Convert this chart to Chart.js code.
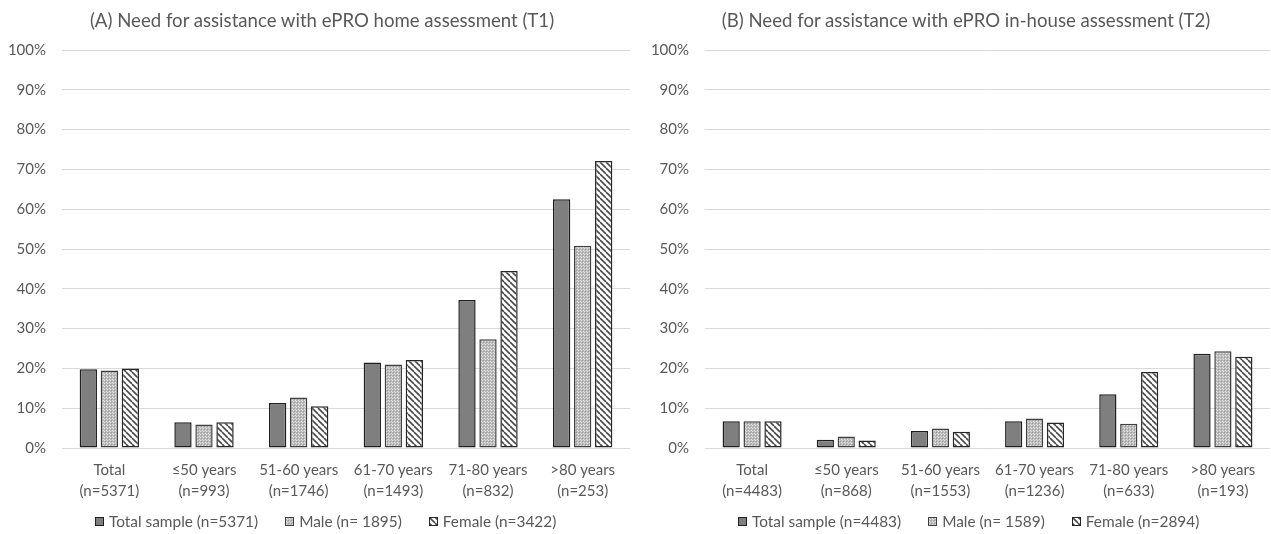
<!DOCTYPE html>
<html>
<head>
<meta charset="utf-8">
<script src="https://cdn.jsdelivr.net/npm/chart.js@4"></script>
<style>
  html, body { margin: 0; padding: 0; background: #fff; }
  #wrap { position: relative; width: 1271px; height: 534px; overflow: hidden; }
  canvas.chart { position: absolute; top: 0; }
  .title { position: absolute; top: 9px; height: 22px; line-height: 22px; transform: translateX(-50%);
           font-family: Lato, "Liberation Sans", sans-serif; font-size: 18.6px; color: #595959; white-space: nowrap; }
  .legend { position: absolute; top: 512px; height: 18px; display: flex; align-items: center;
            font-family: Lato, "Liberation Sans", sans-serif; font-size: 15.4px; color: #595959; white-space: nowrap; }
  .legend .item { display: flex; align-items: center; margin-right: 27px; line-height: 18px; }
  .legend canvas { width: 9px; height: 9px; margin-right: 5px; display: block; }
</style>
</head>
<body>
<div id="wrap">
  <canvas id="chartA" class="chart" width="636" height="534" style="left:0px"></canvas>
  <canvas id="chartB" class="chart" width="635" height="534" style="left:636px"></canvas>
  <div id="titleA" class="title" style="left:322px"></div>
  <div id="titleB" class="title" style="left:966px"></div>
  <div id="legendA" class="legend" style="left:95px"></div>
  <div id="legendB" class="legend" style="left:738px"></div>
</div>
<script>
// Age groups on the x axis
const ageGroups = ["Total", "\u226450 years", "51-60 years", "61-70 years", "71-80 years", ">80 years"];
// Group sizes per age group
const nHome = [5371, 993, 1746, 1493, 832, 253];
const nInHouse = [4483, 868, 1553, 1236, 633, 193];

// Share needing assistance, home assessment (T1), in %
const homeTotal  = [19.8, 6.5, 11.3, 21.5, 37.2, 62.5];
const homeMale   = [19.5, 5.9, 12.7, 21.0, 27.3, 50.8];
const homeFemale = [20.0, 6.5, 10.5, 22.1, 44.5, 72.1];

// Share needing assistance, in-house assessment (T2), in %
const inHouseTotal  = [6.7, 2.1, 4.3, 6.7, 13.5, 23.7];
const inHouseMale   = [6.7, 2.9, 4.9, 7.4, 6.1, 24.3];
const inHouseFemale = [6.7, 1.9, 4.1, 6.4, 19.1, 22.9];

// Series names
const seriesHome = ["Total sample (n=5371)", "Male (n= 1895)", "Female (n=3422)"];
const seriesInHouse = ["Total sample (n=4483)", "Male (n= 1589)", "Female (n=2894)"];

// Panel titles
const titleHome = "(A) Need for assistance with ePRO home assessment (T1)";
const titleInHouse = "(B) Need for assistance with ePRO in-house assessment (T2)";

// Y axis ticks
const yTicks = [0, 10, 20, 30, 40, 50, 60, 70, 80, 90, 100];

const TEXT = '#595959';
const FONT = 'Lato, "Liberation Sans", sans-serif';

// Fill patterns for the three series
function dotPattern() {
  const c = document.createElement('canvas');
  c.width = 3; c.height = 3;
  const g = c.getContext('2d');
  g.fillStyle = '#bababa'; g.fillRect(0, 0, 3, 3);
  g.fillStyle = '#999999'; g.fillRect(0, 0, 1, 1);
  g.fillStyle = '#e2e2e2'; g.fillRect(1, 1, 1, 1); g.fillRect(2, 2, 1, 1);
  return g.createPattern(c, 'repeat');
}
function stripePattern() {
  const c = document.createElement('canvas');
  c.width = 6; c.height = 6;
  const g = c.getContext('2d');
  g.fillStyle = '#ffffff'; g.fillRect(0, 0, 6, 6);
  g.strokeStyle = '#4a4a4a'; g.lineWidth = 1.6;
  for (let x = -6; x <= 6; x += 6) {
    g.beginPath(); g.moveTo(x, 0); g.lineTo(x + 6, 6); g.stroke();
  }
  return g.createPattern(c, 'repeat');
}

const fills = ['#7f7f7f', dotPattern(), stripePattern()];
const borders = ['#1f1f1f', '#404040', '#262626'];

function buildConfig(labels, series, values, yWidth, padRight) {
  return {
    type: 'bar',
    data: {
      labels: labels,
      datasets: series.map((name, i) => ({
        label: name,
        data: values[i],
        backgroundColor: fills[i],
        borderColor: borders[i],
        borderWidth: 1.5,
        borderSkipped: false,
        categoryPercentage: 0.666,
        barPercentage: 0.824
      }))
    },
    options: {
      responsive: false,
      animation: false,
      devicePixelRatio: 1,
      layout: { padding: { left: 0, right: padRight, top: 50, bottom: 0 } },
      plugins: {
        legend: { display: false },
        tooltip: { enabled: false },
        title: { display: false }
      },
      scales: {
        x: {
          grid: { display: false, drawTicks: false },
          border: { display: false },
          ticks: {
            color: TEXT,
            font: { family: FONT, size: 15, lineHeight: 1.38 },
            padding: 12,
            maxRotation: 0,
            autoSkip: false
          },
          afterFit: (s) => { s.height = 86; }
        },
        y: {
          min: 0,
          max: 100,
          afterBuildTicks: (s) => { s.ticks = yTicks.map(v => ({ value: v })); },
          grid: { color: '#d9d9d9', lineWidth: 1, drawTicks: false },
          border: { display: false },
          ticks: {
            color: TEXT,
            font: { family: FONT, size: 15 },
            padding: 16,
            callback: (v) => v + '%'
          },
          afterFit: (s) => { s.width = yWidth; }
        }
      }
    }
  };
}

function axisLabels(ns) {
  return ageGroups.map((g, i) => [g, '(n=' + ns[i] + ')']);
}

new Chart(document.getElementById('chartA'), buildConfig(
  axisLabels(nHome), seriesHome, [homeTotal, homeMale, homeFemale], 62, 6));

new Chart(document.getElementById('chartB'), buildConfig(
  axisLabels(nInHouse), seriesInHouse, [inHouseTotal, inHouseMale, inHouseFemale], 69, 1));

document.getElementById('titleA').textContent = titleHome;
document.getElementById('titleB').textContent = titleInHouse;

// Legend rows under each panel
function buildLegend(id, series) {
  const host = document.getElementById(id);
  series.forEach((name, i) => {
    const item = document.createElement('div');
    item.className = 'item';
    const sw = document.createElement('canvas');
    sw.width = 9; sw.height = 9;
    const g = sw.getContext('2d');
    g.fillStyle = fills[i]; g.fillRect(0, 0, 9, 9);
    g.strokeStyle = borders[i]; g.lineWidth = 1; g.strokeRect(0.5, 0.5, 8, 8);
    const txt = document.createElement('span');
    txt.textContent = name;
    item.appendChild(sw); item.appendChild(txt);
    host.appendChild(item);
  });
}
buildLegend('legendA', seriesHome);
buildLegend('legendB', seriesInHouse);
</script>
</body>
</html>
